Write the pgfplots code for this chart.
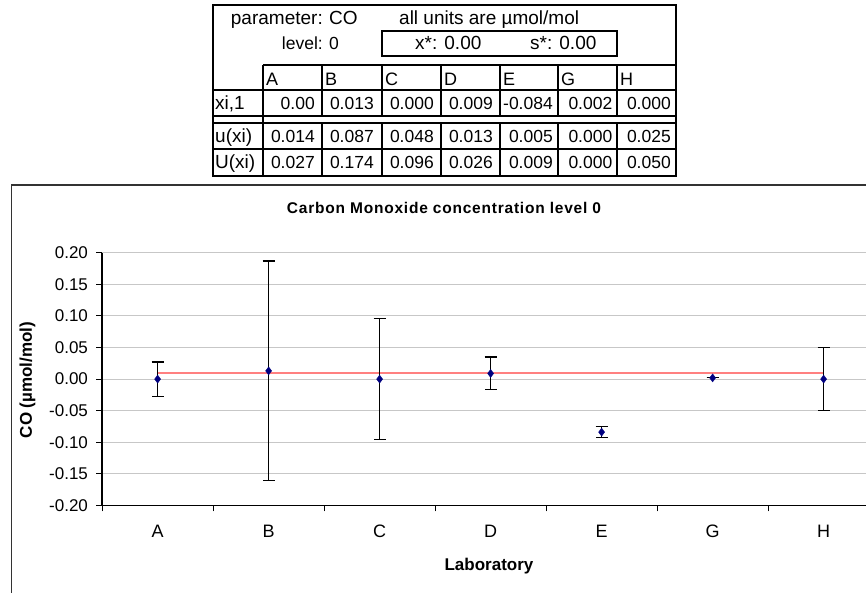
\documentclass[border=0pt]{standalone}
\usepackage{fontspec}
\setmainfont{Liberation Sans}
\usepackage{pgfplots}
\pgfplotsset{compat=1.18}
\definecolor{navy}{RGB}{0,0,128}
\definecolor{salmonred}{RGB}{255,128,128}
\newcommand\tf{\fontsize{17}{20}\selectfont}
\newcommand\nf{\fontsize{17.5}{20}\selectfont}
\newcommand\lf{\fontsize{19}{22}\selectfont}
\newfontfamily\titlefont[LetterSpace=5]{Liberation Sans}
\begin{document}
\begin{tikzpicture}[x=1pt,y=1pt]
\useasboundingbox (0,0) rectangle (866,593);
% ---------- table ----------
\draw[line width=2pt] (213,588) rectangle (676,417);
\begin{scope}[line width=1.5pt]
\draw (263,528) -- (676,528);
\draw (213,503) -- (676,503);
\draw (213,477) -- (676,477);
\draw (213,470) -- (676,470);
\draw (213,444) -- (676,444);
\foreach \x in {263,322,382,441,500,558,617} {\draw (\x,528) -- (\x,477); \draw (\x,470) -- (\x,417);}
\draw (263,477) -- (263,470);
\draw[line width=2pt] (382,562) rectangle (617,537);
\end{scope}
\begin{scope}[every node/.style={inner sep=0pt, font=\lf}]
\node[anchor=base east] at (323,568) {parameter:};
\node[anchor=base west] at (329,568) {CO};
\node[anchor=base east, font=\fontsize{17.5}{20}\selectfont] at (323,543) {level:};
\node[anchor=base west, font=\fontsize{17.5}{20}\selectfont] at (329,543) {0};
\node[anchor=base west] at (399,568) {all units are µmol/mol};
\node[anchor=base west] at (415,543) {x*: 0.00};
\node[anchor=base west] at (530,543) {s*: 0.00};
\foreach \x/\t in {266/A,325/B,385/C,444/D,503/E,561/G,620/H} {\node[anchor=base west, font=\fontsize{18}{20}\selectfont] at (\x,507) {\t};}
\node[anchor=base west] at (215,483) {xi,1};
\node[anchor=base west] at (215,450.3) {u(xi)};
\node[anchor=base west] at (215,424.7) {U(xi)};
\foreach \x/\a/\b/\c in {315/0.00/0.014/0.027, 374/0.013/0.087/0.174, 434/0.000/0.048/0.096, 493/0.009/0.013/0.026, 553/-0.084/0.005/0.009, 612.5/0.002/0.000/0.000, 671/0.000/0.025/0.050} {
  \node[anchor=base east, font=\nf] at (\x,483) {\a};
  \node[anchor=base east, font=\nf] at (\x,450.3) {\b};
  \node[anchor=base east, font=\nf] at (\x,424.7) {\c};
}
\end{scope}
% ---------- chart frame ----------
\draw[line width=1.5pt, black!80] (11.7,-5) -- (11.7,408) -- (890,408);
\node[inner sep=0pt, anchor=base, font={\titlefont\bfseries\fontsize{15.5}{18}\selectfont}] at (444,379) {Carbon Monoxide concentration level 0};
\node[inner sep=0pt, rotate=90, font={\bfseries\tf}] at (27.5,213) {CO (µmol/mol)};
\node[inner sep=0pt, anchor=base, font={\bfseries\tf}] at (489,22.3) {Laboratory};
% ---------- axis ----------
\begin{axis}[
  at={(92,138.7)}, anchor=south west, scale only axis,
  width=777pt, height=252.6pt,
  xmin=-0.5, xmax=6.5, ymin=-0.2, ymax=0.2,
  axis x line*=bottom, axis y line*=left,
  axis line style={-, black, line width=1.3pt},
  xtick={0,...,6}, xticklabels={A,B,C,D,E,G,H},
  minor xtick={-0.5,0.5,...,6.5},
  ytick={-0.2,-0.15,...,0.2},
  tick align=outside,
  major tick length=6pt, minor tick length=6pt,
  tick style={black, line width=1pt},
  major x tick style={draw=none},
  ymajorgrids, major grid style={black!22, line width=1pt},
  /pgf/number format/assume math mode=true,
  y tick label style={/pgf/number format/fixed, /pgf/number format/fixed zerofill, /pgf/number format/precision=2},
  ticklabel style={font=\tf},
  yticklabel style={anchor=east, inner sep=0pt, xshift=-8pt},
  xticklabel style={anchor=base, inner sep=0pt, yshift=-26pt, font=\fontsize{18}{20}\selectfont},
]
\addplot[salmonred, line width=2pt] coordinates {(0,0.009) (6,0.009)};
\addplot[only marks, mark=diamond*, mark size=4pt, mark options={fill=navy, draw=navy},
  error bars/.cd, y dir=both, y explicit,
  error bar style={black, line width=1.3pt},
  error mark options={black, mark size=6pt, line width=1.3pt, rotate=90}]
  table[x=x, y=y, y error=e] {
x y e
0 0.000 0.027
1 0.013 0.174
2 0.000 0.096
3 0.009 0.026
4 -0.084 0.009
5 0.002 0.000
6 0.000 0.050
};
\end{axis}
\end{tikzpicture}
\end{document}
